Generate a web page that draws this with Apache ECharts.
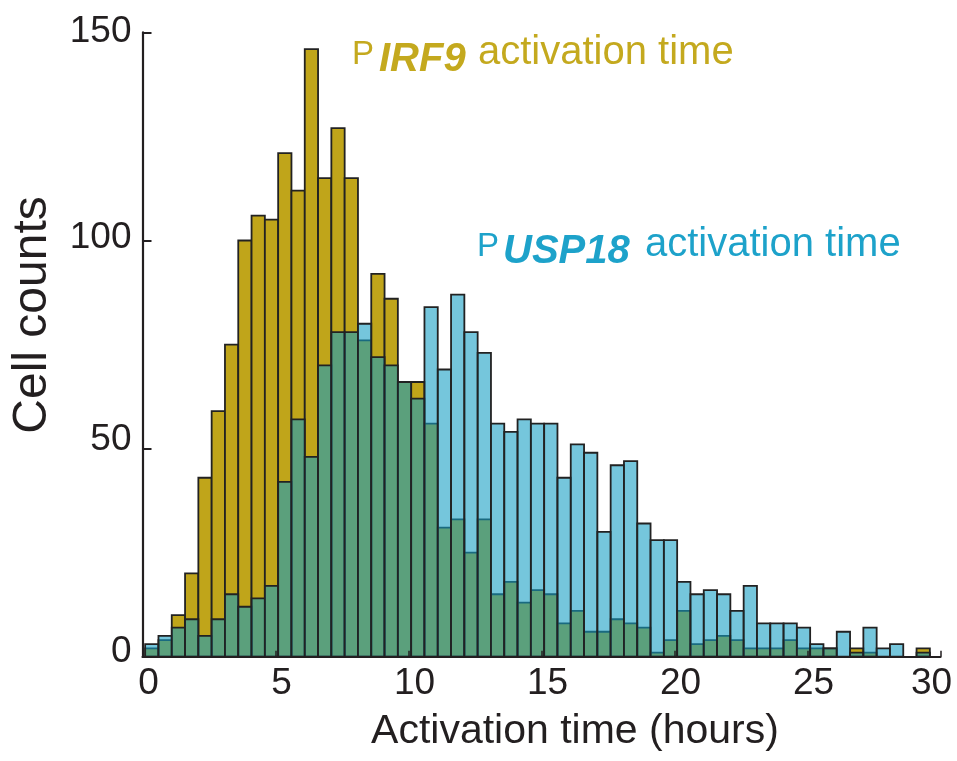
<!DOCTYPE html>
<html>
<head>
<meta charset="utf-8">
<title>Activation time histogram</title>
<script src="https://cdn.jsdelivr.net/npm/echarts@6/dist/echarts.min.js"></script>
<style>
  html, body { margin: 0; padding: 0; background: #fff; }
  #chart { width: 957px; height: 761px; }
</style>
</head>
<body>
<div id="chart"></div>
<script>
// histogram bins (hours): first left edge and bin width
var binStart = 0.1;
var binWidth = 0.5;

// cell counts per bin
var irf9Counts = [2, 4, 10, 20, 43, 59, 75, 100, 106, 105,
                  121, 112, 146, 115, 127, 115, 76, 92, 86, 66,
                  66, 56, 31, 33, 25, 33, 15, 18, 13, 16,
                  15, 8, 11, 6, 6, 9, 8, 7, 1, 4,
                  11, 3, 4, 5, 4, 2, 2, 2, 4, 2,
                  2, 2, 0, 2, 1, 0, 0, 0, 2];
var usp18Counts = [3, 5, 7, 9, 5, 9, 15, 12, 14, 17,
                   42, 57, 48, 70, 78, 78, 80, 72, 70, 66,
                   62, 84, 69, 87, 78, 73, 56, 54, 57, 56,
                   56, 43, 51, 49, 30, 46, 47, 32, 28, 28,
                   18, 15, 16, 15, 11, 17, 8, 8, 8, 7,
                   3, 2, 6, 1, 7, 2, 3, 0, 1];

var xTicks = [0, 5, 10, 15, 20, 25, 30];
var yTicks = [0, 50, 100, 150];

var ink = "#231F20";
var font = '"Liberation Sans", Arial, Helvetica, sans-serif';
var gold = "#C0A51A";
var goldText = "#C4A91E";
var blueFill = "rgba(19,157,195,0.585)";
var blueText = "#1DA2CA";

function toBins(counts) {
    return counts.map(function (c, i) {
        var left = binStart + i * binWidth;
        return [left, left + binWidth, c];
    });
}

function renderBar(params, api) {
    var v = api.value(2);
    if (!v) return null;
    var p0 = api.coord([api.value(0), v]);
    var p1 = api.coord([api.value(1), 0]);
    return {
        type: "rect",
        shape: { x: p0[0], y: p0[1], width: p1[0] - p0[0], height: p1[1] - p0[1] },
        style: api.style()
    };
}

function label(text, x, y, size, color, extra) {
    var style = { text: text, fontSize: size, fontFamily: font, fill: color,
                  align: "left", verticalAlign: "middle" };
    for (var k in extra) style[k] = extra[k];
    return { type: "text", x: x, y: y, style: style };
}

// tick labels in the figure sit slightly off their ticks
var xLabelRich = {
    n: { padding: [0, 0, 0, 12] },
    e: { padding: [0, 18, 0, 0] }
};
var yLabelRich = {
    z: { padding: [0, 0, 10, 0] },
    f: { padding: [0, 0, 18, 0] },
    h: { padding: [0, 0, 6, 0] },
    t: { padding: [0, 0, 2, 0] }
};

var chart = echarts.init(document.getElementById("chart"), null, { renderer: "canvas" });

chart.setOption({
    backgroundColor: "#fff",
    animation: false,
    textStyle: { fontFamily: font, color: ink },
    grid: { left: 142.5, right: 16.5, top: 32.4, bottom: 104.3 },
    xAxis: {
        type: "value",
        min: 0,
        max: 30,
        interval: 5,
        z: 5,
        axisLine: { lineStyle: { color: ink, width: 2.2 } },
        axisTick: { inside: true, length: 6, lineStyle: { color: ink, width: 1.5 } },
        splitLine: { show: false },
        axisLabel: {
            margin: 9,
            fontSize: 37,
            color: ink,
            fontFamily: font,
            showMaxLabel: true,
            formatter: function (v) {
                return v === xTicks[xTicks.length - 1] ? "{e|" + v + "}" : "{n|" + v + "}";
            },
            rich: xLabelRich
        }
    },
    yAxis: {
        type: "value",
        min: 0,
        max: 150,
        interval: 50,
        z: 5,
        axisLine: { show: true, lineStyle: { color: ink, width: 2.2 } },
        axisTick: { show: true, inside: true, length: 9, lineStyle: { color: ink, width: 2 } },
        splitLine: { show: false },
        axisLabel: {
            margin: 11,
            fontSize: 37,
            color: ink,
            fontFamily: font,
            formatter: function (v) {
                var key = ["z", "f", "h", "t"][yTicks.indexOf(v)];
                return "{" + key + "|" + v + "}";
            },
            rich: yLabelRich
        }
    },
    graphic: [
        { type: "text", x: 33, y: 315, rotation: Math.PI / 2,
          style: { text: "Cell counts", fontSize: 48, fontFamily: font, fill: ink,
                   align: "center", verticalAlign: "middle" } },
        { type: "text", x: 575, y: 732,
          style: { text: "Activation time (hours)", fontSize: 41, fontFamily: font, fill: ink,
                   align: "center", verticalAlign: "middle" } },

        label("P", 352, 55, 33, goldText),
        label("IRF9", 379, 59.5, 40, goldText, { fontStyle: "italic", fontWeight: "bold" }),
        label("activation time", 478, 52.8, 40, goldText),

        label("P", 477, 247, 33, blueText),
        label("USP18", 503, 252, 40, blueText, { fontStyle: "italic", fontWeight: "bold" }),
        label("activation time", 645, 245, 40, blueText)
    ],
    series: [
        {
            name: "PIRF9",
            type: "custom",
            renderItem: renderBar,
            encode: { x: [0, 1], y: 2 },
            itemStyle: { color: gold, borderColor: "#222", borderWidth: 1.8 },
            data: toBins(irf9Counts),
            z: 2
        },
        {
            name: "PUSP18",
            type: "custom",
            renderItem: renderBar,
            encode: { x: [0, 1], y: 2 },
            itemStyle: { color: blueFill, borderColor: "#222", borderWidth: 1.8 },
            data: toBins(usp18Counts),
            z: 3
        }
    ]
});
</script>
</body>
</html>
